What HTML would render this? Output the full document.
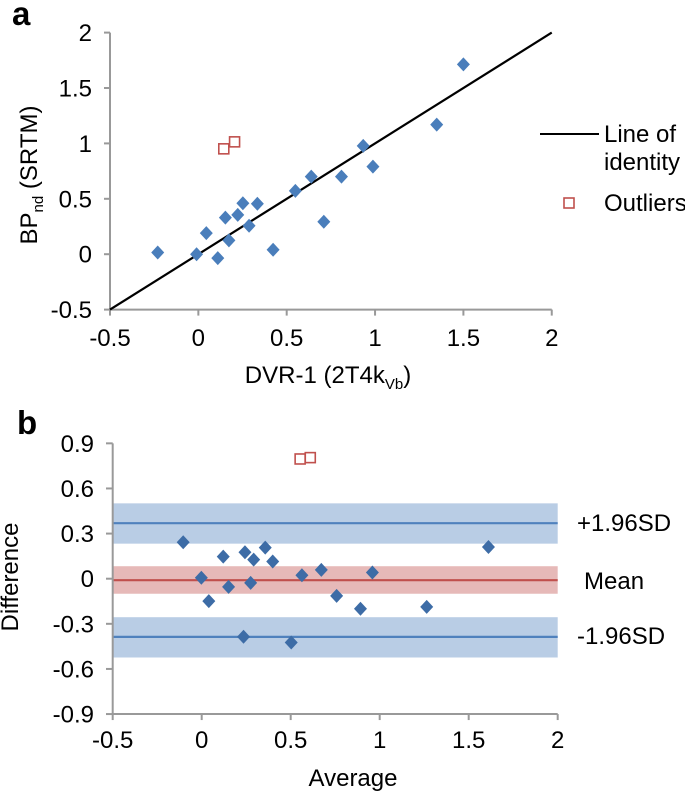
<!DOCTYPE html>
<html><head><meta charset="utf-8"><style>
html,body{margin:0;padding:0;background:#fff;}
svg{display:block;font-family:"Liberation Sans",Arial,sans-serif;}
</style></head><body>
<svg id="fig" width="685" height="791" viewBox="0 0 685 791"></svg>
<script>
// Panel a data
const aX = [-0.23,-0.01,0.045,0.11,0.153,0.173,0.223,0.252,0.287,0.334,0.423,0.549,0.639,0.71,0.81,0.933,0.988,1.349,1.5];
const aY = [0.015,0,0.19,-0.035,0.33,0.125,0.355,0.46,0.257,0.455,0.04,0.571,0.70,0.293,0.70,0.978,0.79,1.169,1.713];
const aOutX = [0.144,0.205];
const aOutY = [0.951,1.014];
const aXTicks = [-0.5,0,0.5,1,1.5,2];
const aYTicks = [-0.5,0,0.5,1,1.5,2];
// Panel b data
const bX = [-0.104,-0.002,0.04,0.121,0.151,0.243,0.275,0.292,0.357,0.399,0.235,0.503,0.563,0.672,0.758,0.892,0.959,1.264,1.611];
const bY = [0.242,0.006,-0.149,0.147,-0.054,0.176,-0.028,0.127,0.207,0.114,-0.386,-0.424,0.023,0.059,-0.114,-0.2,0.041,-0.187,0.211];
const bOutX = [0.553,0.61];
const bOutY = [0.796,0.805];
const bXTicks = [-0.5,0,0.5,1,1.5,2];
const bYTicks = [-0.9,-0.6,-0.3,0,0.3,0.6,0.9];
const bUpper = [0.369,0.233,0.501];
const bMean = [-0.01,-0.1,0.083];
const bLower = [-0.387,-0.524,-0.256];

const NS="http://www.w3.org/2000/svg";
const svg=document.getElementById('fig');
const FS=24;
function mk(tag,attrs,parent,text){const e=document.createElementNS(NS,tag);for(const k in attrs)e.setAttribute(k,attrs[k]);if(text!==undefined)e.textContent=text;(parent||svg).appendChild(e);return e;}
function fmt(v){return String(v);}

// ---------- Panel a ----------
const ax=x=>110+(x+0.5)*176.7;
const ay=y=>309.6-(y+0.5)*110.8;
const ga=mk('g',{});


let t=mk('text',{x:12,y:25,'font-size':33,'font-weight':'bold'},ga,'a');

let l=mk('line',{x1:110,y1:ay(2),x2:110,y2:ay(-0.5),stroke:'#999','stroke-width':2},ga);

l=mk('line',{x1:ax(-0.5),y1:ay(-0.5),x2:ax(2),y2:ay(-0.5),stroke:'#999','stroke-width':2},ga);

aYTicks.forEach(v=>{
  const e=mk('line',{x1:104,y1:ay(v),x2:110,y2:ay(v),stroke:'#999','stroke-width':2},ga);
  
  const tx=mk('text',{x:92,y:ay(v)+8.5,'font-size':FS,'text-anchor':'end'},ga,fmt(v));
  
});
aXTicks.forEach(v=>{
  const e=mk('line',{x1:ax(v),y1:ay(-0.5),x2:ax(v),y2:ay(-0.5)+6,stroke:'#999','stroke-width':2},ga);
  
  const tx=mk('text',{x:ax(v),y:346,'font-size':FS,'text-anchor':'middle'},ga,fmt(v));
  
});
l=mk('line',{x1:ax(-0.5),y1:ay(-0.5),x2:ax(2),y2:ay(2),stroke:'#000','stroke-width':2.2},ga);

aX.forEach((x,i)=>{
  const cx=ax(x),cy=ay(aY[i]);
  const p=mk('polygon',{points:`${cx},${cy-7} ${cx+6.5},${cy} ${cx},${cy+7} ${cx-6.5},${cy}`,fill:'#4a7ebb'},ga);
  
});
aOutX.forEach((x,i)=>{
  const r=mk('rect',{x:ax(x)-5,y:ay(aOutY[i])-5,width:10,height:10,fill:'#fff',stroke:'#c0504d','stroke-width':1.6},ga);
  
});
t=mk('text',{x:0,y:0,'font-size':FS,'text-anchor':'middle',transform:'translate(37,175) rotate(-90)'},ga);

t.innerHTML='BP<tspan font-size="15" dy="6">nd</tspan><tspan dy="-6"> (SRTM)</tspan>';
t=mk('text',{x:328,y:383,'font-size':FS,'text-anchor':'middle'},ga);

t.innerHTML='DVR-1 (2T4k<tspan font-size="15" dy="6">Vb</tspan><tspan dy="-6">)</tspan>';
l=mk('line',{x1:540,y1:134,x2:599,y2:134,stroke:'#000','stroke-width':2},ga);

t=mk('text',{x:604,y:142,'font-size':FS},ga,'Line of');

t=mk('text',{x:604,y:170,'font-size':FS},ga,'identity');

let r=mk('rect',{x:564,y:198,width:10,height:10,fill:'#fff',stroke:'#c0504d','stroke-width':1.6},ga);

t=mk('text',{x:604,y:211,'font-size':FS},ga,'Outliers');


// ---------- Panel b ----------
const bx=x=>112.7+(x+0.5)*178;
const by=y=>578.7-y*150.4;
const gb=mk('g',{});


t=mk('text',{x:17,y:434,'font-size':33,'font-weight':'bold'},gb,'b');

[[bUpper,'#b9cde5','#4f81bd','upper-limit'],[bMean,'#e6b9b8','#c0504d','mean'],[bLower,'#b9cde5','#4f81bd','lower-limit']].forEach(([arr,fc,lc,nm])=>{
  const rc=mk('rect',{x:bx(-0.5),y:by(arr[2]),width:bx(2)-bx(-0.5),height:by(arr[1])-by(arr[2]),fill:fc},gb);
  
  const ln=mk('line',{x1:bx(-0.5),y1:by(arr[0]),x2:bx(2),y2:by(arr[0]),stroke:lc,'stroke-width':2.2},gb);
  
});
l=mk('line',{x1:112.7,y1:by(0.9),x2:112.7,y2:by(-0.9),stroke:'#999','stroke-width':2},gb);

l=mk('line',{x1:bx(-0.5),y1:by(-0.9),x2:bx(2),y2:by(-0.9),stroke:'#999','stroke-width':2},gb);

bYTicks.forEach(v=>{
  const e=mk('line',{x1:106,y1:by(v),x2:112.7,y2:by(v),stroke:'#999','stroke-width':2},gb);
  
  const tx=mk('text',{x:94,y:by(v)+8.5,'font-size':FS,'text-anchor':'end'},gb,fmt(v));
  
});
bXTicks.forEach(v=>{
  const e=mk('line',{x1:bx(v),y1:by(-0.9),x2:bx(v),y2:by(-0.9)+6,stroke:'#999','stroke-width':2},gb);
  
  const tx=mk('text',{x:bx(v),y:748,'font-size':FS,'text-anchor':'middle'},gb,fmt(v));
  
});
bX.forEach((x,i)=>{
  const cx=bx(x),cy=by(bY[i]);
  const p=mk('polygon',{points:`${cx},${cy-7} ${cx+6.5},${cy} ${cx},${cy+7} ${cx-6.5},${cy}`,fill:'#3d6ca6'},gb);
  
});
bOutX.forEach((x,i)=>{
  const rr=mk('rect',{x:bx(x)-5,y:by(bOutY[i])-5,width:10,height:10,fill:'#fff',stroke:'#c0504d','stroke-width':1.6},gb);
  
});
t=mk('text',{x:0,y:0,'font-size':FS,'text-anchor':'middle',transform:'translate(18,577) rotate(-90)'},gb,'Difference');

t=mk('text',{x:353,y:786,'font-size':FS,'text-anchor':'middle'},gb,'Average');

t=mk('text',{x:577,y:531,'font-size':FS},gb,'+1.96SD');

t=mk('text',{x:584,y:589,'font-size':FS},gb,'Mean');

t=mk('text',{x:577,y:644,'font-size':FS},gb,'-1.96SD');

</script>
</body></html>
